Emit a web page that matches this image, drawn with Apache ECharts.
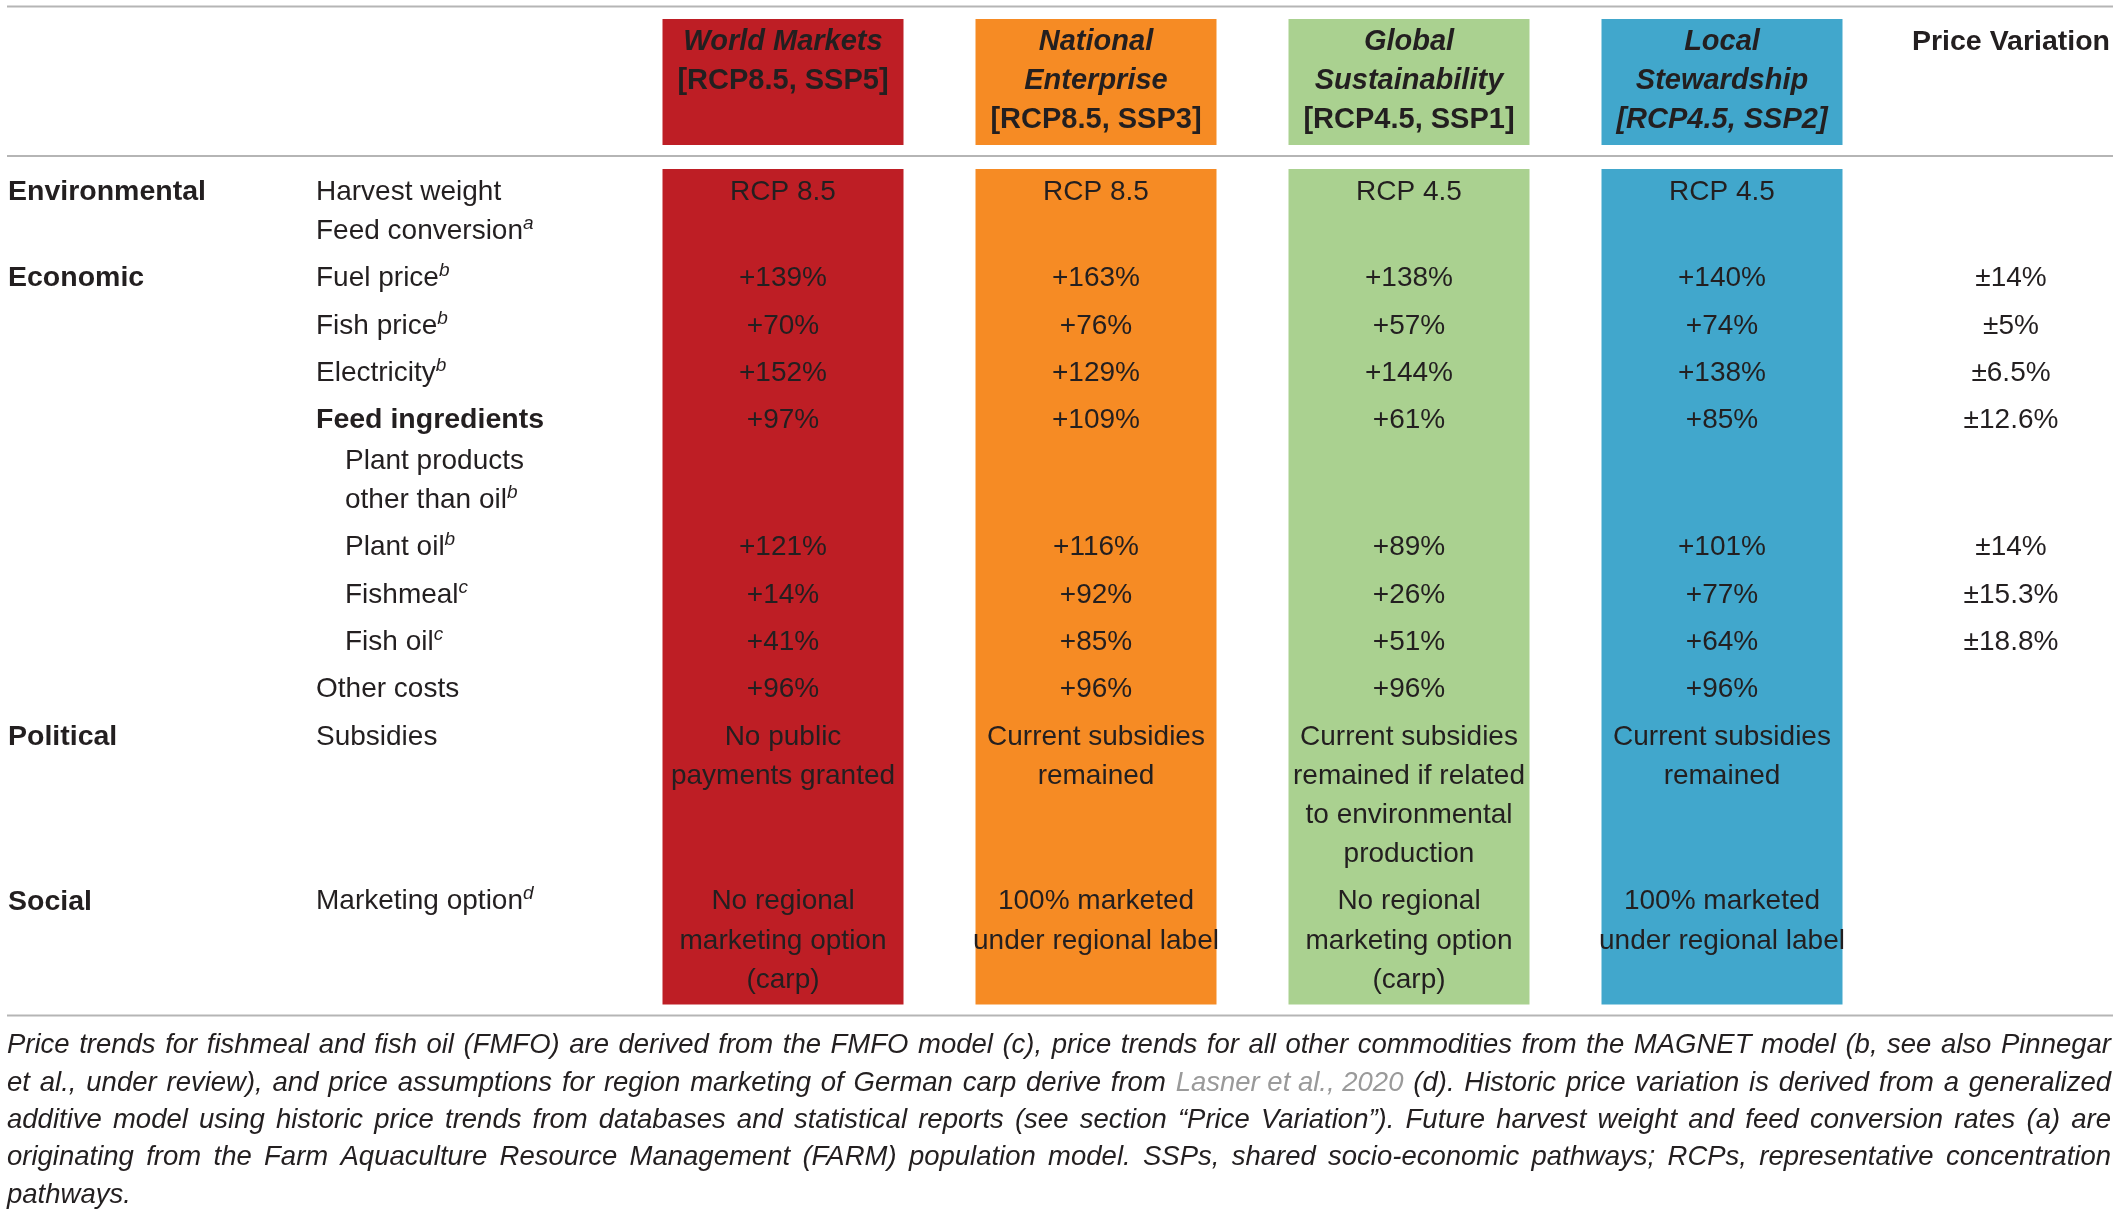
<!DOCTYPE html>
<html>
<head>
<meta charset="utf-8">
<title>Scenario assumptions</title>
<script src="https://cdn.jsdelivr.net/npm/echarts@6/dist/echarts.min.js"></script>
<style>
  html, body { margin: 0; padding: 0; background: #fff; }
  #main { width: 2121px; height: 1215px; }
</style>
</head>
<body>
<div id="main"></div>
<script>
// ---- data ----
const scenarioTitles = [['World Markets'], ['National', 'Enterprise'], ['Global', 'Sustainability'], ['Local', 'Stewardship']];
const scenarioTags = ['[RCP8.5, SSP5]', '[RCP8.5, SSP3]', '[RCP4.5, SSP1]', '[RCP4.5, SSP2]'];
const priceHeader = 'Price Variation';

// "^x" marks a footnote letter set as superscript
const groups = ['Environmental', 'Economic', '', '', '', '', '', '', '', '', 'Political', 'Social'];
const items = [
  ['Harvest weight', 'Feed conversion^a'],
  ['Fuel price^b'],
  ['Fish price^b'],
  ['Electricity^b'],
  ['Feed ingredients'],
  ['Plant products', 'other than oil^b'],
  ['Plant oil^b'],
  ['Fishmeal^c'],
  ['Fish oil^c'],
  ['Other costs'],
  ['Subsidies'],
  ['Marketing option^d']
];
const subItems = [false, false, false, false, false, true, true, true, true, false, false, false];
const subHeaders = [false, false, false, false, true, false, false, false, false, false, false, false];

const worldMarkets = [['RCP 8.5'], ['+139%'], ['+70%'], ['+152%'], ['+97%'], [], ['+121%'], ['+14%'], ['+41%'], ['+96%'],
  ['No public', 'payments granted'], ['No regional', 'marketing option', '(carp)']];
const nationalEnterprise = [['RCP 8.5'], ['+163%'], ['+76%'], ['+129%'], ['+109%'], [], ['+116%'], ['+92%'], ['+85%'], ['+96%'],
  ['Current subsidies', 'remained'], ['100% marketed', 'under regional label']];
const globalSustainability = [['RCP 4.5'], ['+138%'], ['+57%'], ['+144%'], ['+61%'], [], ['+89%'], ['+26%'], ['+51%'], ['+96%'],
  ['Current subsidies', 'remained if related', 'to environmental', 'production'], ['No regional', 'marketing option', '(carp)']];
const localStewardship = [['RCP 4.5'], ['+140%'], ['+74%'], ['+138%'], ['+85%'], [], ['+101%'], ['+77%'], ['+64%'], ['+96%'],
  ['Current subsidies', 'remained'], ['100% marketed', 'under regional label']];
const priceVariation = ['', '±14%', '±5%', '±6.5%', '±12.6%', '', '±14%', '±15.3%', '±18.8%', '', '', ''];

const captionLines = [
  'Price trends for fishmeal and fish oil (FMFO) are derived from the FMFO model (c), price trends for all other commodities from the MAGNET model (b, see also Pinnegar',
  'et al., under review), and price assumptions for region marketing of German carp derive from Lasner et al., 2020 (d). Historic price variation is derived from a generalized',
  'additive model using historic price trends from databases and statistical reports (see section “Price Variation”). Future harvest weight and feed conversion rates (a) are',
  'originating from the Farm Aquaculture Resource Management (FARM) population model. SSPs, shared socio-economic pathways; RCPs, representative concentration',
  'pathways.'
];
const captionLink = 'Lasner et al., 2020';

// ---- layout & style ----
const W = 2121, H = 1215;
const FONT = '"Liberation Sans", Arial, Helvetica, sans-serif';
const INK = '#231f20';
const scenarioColors = ['#be1e25', '#f68b24', '#aad190', '#41a7cc'];
const tagItalic = [false, false, false, true];
const columns = [worldMarkets, nationalEnterprise, globalSustainability, localStewardship];

const colPitch = 313, firstCenter = 783;
const px2col = p => (p - firstCenter) / colPitch;
const boxWidth = 241 / colPitch;
const groupX = px2col(8), itemX = px2col(316), subItemX = px2col(345), priceX = px2col(2011);
const lineStep = 39.2, rowStep = 47.3, subRowStep = 40.6;
const headFirst = 42, bodyFirst = 192.1;
const padTop = 23, padBottom = 24.5;

// row positions follow from the number of text lines in each row
const nLines = items.map((it, r) => Math.max(it.length, ...columns.map(c => c[r].length), 1));
const rowY = [];
let yy = bodyFirst;
nLines.forEach((n, r) => {
  rowY.push(yy);
  yy += (n - 1) * lineStep + (subHeaders[r] ? subRowStep : rowStep);
});
const lastLineY = rowY[rowY.length - 1] + (nLines[nLines.length - 1] - 1) * lineStep;
const headLast = headFirst + 2 * lineStep;

function markup(s) {
  const parts = s.split('^');
  return parts.length > 1 ? '{n|' + parts[0] + '}{s|' + parts[1] + '}' : '{n|' + s + '}';
}

// build text cells
const cells = [];
function add(x, y, text, opts) { cells.push(Object.assign({ x: x, y: y, text: text }, opts)); }

scenarioTitles.forEach((t, i) => {
  t.forEach((line, k) => add(i, headFirst + k * lineStep, line, { align: 'center', weight: 'bold', italic: true, size: 29 }));
  add(i, headFirst + t.length * lineStep, scenarioTags[i], { align: 'center', weight: 'bold', italic: tagItalic[i], size: 29 });
});
add(priceX, headFirst, priceHeader, { align: 'center', weight: 'bold', size: 28.5 });

items.forEach((it, r) => {
  if (groups[r]) add(groupX, rowY[r], groups[r], { align: 'left', weight: 'bold', size: 28.5 });
  it.forEach((line, k) => add(subItems[r] ? subItemX : itemX, rowY[r] + k * lineStep, line,
    { align: 'left', weight: subHeaders[r] ? 'bold' : 'normal', size: subHeaders[r] ? 28.5 : 28 }));
  columns.forEach((col, i) => col[r].forEach((line, k) =>
    add(i, rowY[r] + k * lineStep, line, { align: 'center', weight: 'normal', size: 28 })));
  if (priceVariation[r]) add(priceX, rowY[r], priceVariation[r], { align: 'center', weight: 'normal', size: 28 });
});

// ---- caption, justified word by word ----
const capSize = 27.5, capStep = 37.4, capFirst = 1045.5, capLeft = 7, capRight = 2111;
const measure = document.createElement('canvas').getContext('2d');
measure.font = 'italic ' + capSize + 'px ' + FONT;
const captionGraphics = [];
captionLines.forEach((line, li) => {
  let tokens = [];
  const at = line.indexOf(captionLink);
  if (at >= 0) {
    line.slice(0, at).split(' ').filter(Boolean).forEach(w => tokens.push({ w: w }));
    tokens.push({ w: captionLink, link: true });
    line.slice(at + captionLink.length).split(' ').filter(Boolean).forEach((w, k) => {
      if (k === 0 && !line.slice(at + captionLink.length).startsWith(' ')) tokens[tokens.length - 1].tail = w;
      else tokens.push({ w: w });
    });
  } else {
    tokens = line.split(' ').map(w => ({ w: w }));
  }
  const space = measure.measureText(' ').width;
  const widths = tokens.map(t => measure.measureText(t.w + (t.tail || '')).width);
  const natural = widths.reduce((a, b) => a + b, 0) + space * (tokens.length - 1);
  const last = li === captionLines.length - 1;
  const gap = last || tokens.length < 2 ? space : space + (capRight - capLeft - natural) / (tokens.length - 1);
  let x = capLeft;
  tokens.forEach((t, k) => {
    const txt = t.tail ? '{l|' + t.w + '}{c|' + t.tail + '}' : (t.link ? '{l|' + t.w + '}' : '{c|' + t.w + '}');
    captionGraphics.push({
      type: 'text', x: x, y: capFirst + li * capStep,
      style: {
        text: txt, verticalAlign: 'middle', align: 'left',
        rich: {
          c: { fontSize: capSize, fontStyle: 'italic', fontFamily: FONT, fill: INK },
          l: { fontSize: capSize, fontStyle: 'italic', fontFamily: FONT, fill: '#9a9a9a' }
        }
      }
    });
    x += widths[k] + gap;
  });
});

const rule = y => ({ type: 'line', shape: { x1: 7, y1: y, x2: 2113, y2: y }, style: { stroke: '#b5b5b5', lineWidth: 2 } });

const myChart = echarts.init(document.getElementById('main'), null, { renderer: 'canvas' });
const option = {
  animation: false,
  backgroundColor: '#fff',
  grid: { left: 0, right: 0, top: 0, bottom: 0 },
  xAxis: { type: 'value', min: px2col(0), max: px2col(W), show: false },
  yAxis: { type: 'value', inverse: true, min: 0, max: H, show: false },
  graphic: [rule(6.5), rule(156), rule(1015.5)].concat(captionGraphics),
  series: [
    {
      type: 'custom',
      name: 'scenario boxes',
      data: scenarioColors.map((c, i) => [i]),
      renderItem: function (params, api) {
        const i = api.value(0);
        const w = api.size([boxWidth, 0])[0];
        const cx = api.coord([i, 0])[0];
        const fill = scenarioColors[params.dataIndex];
        const rect = (y0, y1) => {
          const a = api.coord([i, y0])[1], b = api.coord([i, y1])[1];
          return { type: 'rect', shape: { x: cx - w / 2, y: a, width: w, height: b - a }, style: { fill: fill } };
        };
        return { type: 'group', children: [
          rect(headFirst - padTop, headLast + padBottom),
          rect(bodyFirst - padTop, lastLineY + padBottom)
        ] };
      },
      z: 1
    },
    {
      type: 'custom',
      name: 'cells',
      data: cells.map(c => [c.x, c.y]),
      renderItem: function (params, api) {
        const c = cells[params.dataIndex];
        const p = api.coord([api.value(0), api.value(1)]);
        return {
          type: 'text', x: p[0], y: p[1],
          style: {
            text: markup(c.text), align: c.align, verticalAlign: 'middle',
            rich: {
              n: { fontSize: c.size, fontFamily: FONT, fontWeight: c.weight, fontStyle: c.italic ? 'italic' : 'normal', fill: INK, lineHeight: 34 },
              s: { fontSize: 19, fontFamily: FONT, fontStyle: 'italic', fill: INK, lineHeight: 19, verticalAlign: 'top' }
            }
          }
        };
      },
      z: 2
    }
  ]
};
myChart.setOption(option);
</script>
</body>
</html>
